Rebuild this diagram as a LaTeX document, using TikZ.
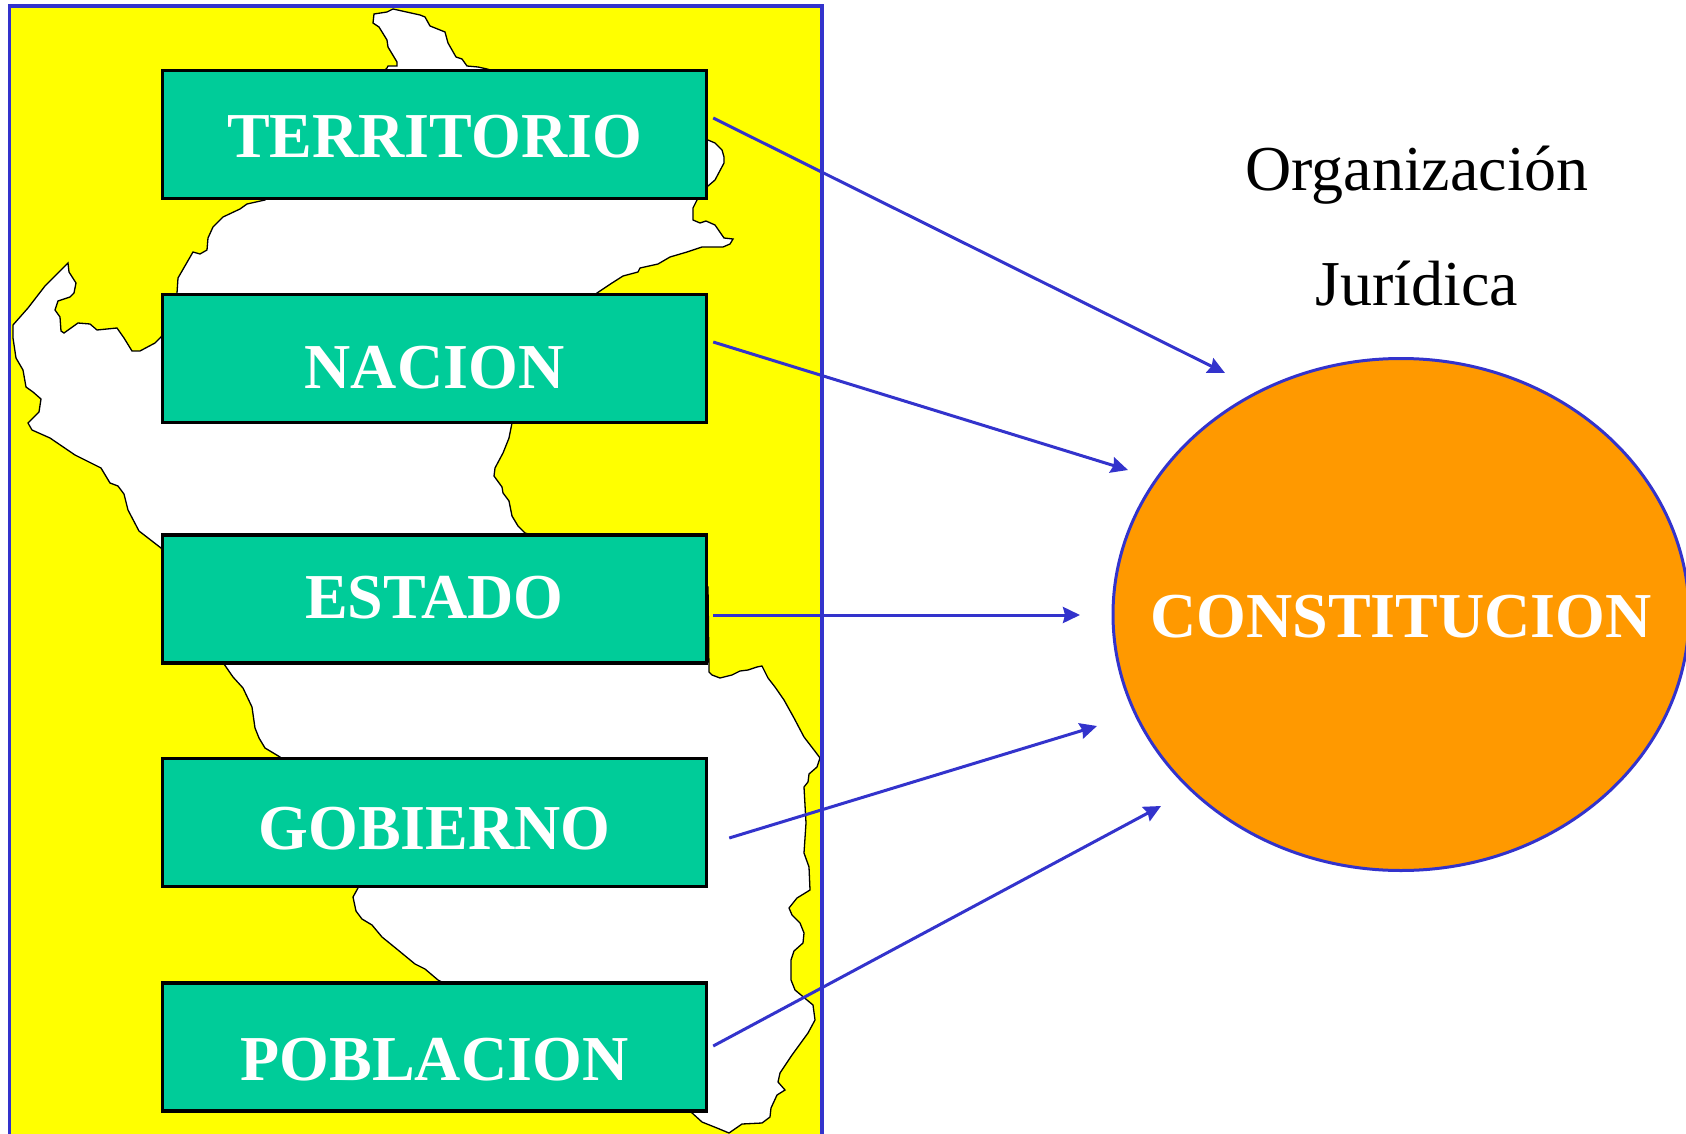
\documentclass[tikz,border=0pt]{standalone}
\usepackage{fontspec}
\setmainfont{Liberation Serif}
\usepackage{xcolor}
\definecolor{mapyellow}{RGB}{255, 255, 0}
\definecolor{boxgreen}{RGB}{0, 204, 153}
\definecolor{lineblue}{RGB}{51, 51, 204}
\definecolor{circleorange}{RGB}{255, 153, 0}
\usetikzlibrary{
    shapes.geometric,
    arrows.meta
}
\tikzset{
    conceptbox/.style={draw=black,line width=1.7pt,fill=boxgreen,text=white,inner sep=0pt,
        minimum width=272pt,minimum height=64pt,text height=21.2pt,text depth=0pt,
        font=\fontsize{32}{36}\selectfont\bfseries},
    linkarrow/.style={draw=lineblue,line width=1.5pt,-{Stealth[length=8.5pt,width=8pt,inset=1pt]}},
    titletext/.style={anchor=base,inner sep=0pt,font=\fontsize{32}{36}\selectfont}
}

\begin{document}
\begin{tikzpicture}[x=0.5pt,y=-0.5pt]
    \useasboundingbox (0,0) rectangle (1686,1134);

    % Yellow panel behind the map
    \fill[mapyellow] (9.5,6) rectangle (822,1150);

    % Map outline, clockwise from the north tip
    \draw[black,line width=0.65pt,fill=white]
        (373,23) -- (374,14) -- (387,12) -- (393,9) -- (420,15) -- (425,17) -- (430,26) -- (445,32)
        -- (448,43) -- (456,57) -- (462,59) -- (467,66) -- (478,67) -- (487,69) -- (600,100)
        -- (708,140) -- (715,143) -- (722,150) -- (724,157) -- (724,163) -- (715,180) -- (708,186)
        -- (697,200) -- (693,208) -- (693,220) -- (700,223) -- (706,221) -- (715,225) -- (724,238)
        -- (733,239) -- (730,244) -- (723,247) -- (702,247) -- (687,252) -- (670,257) -- (658,264)
        -- (640,268) -- (638,272) -- (623,276) -- (612,283) -- (597,293) -- (540,360) -- (512,423)
        -- (509,438) -- (503,453) -- (495,468) -- (494,476) -- (502,487) -- (503,493) -- (509,501)
        -- (512,516) -- (518,526) -- (525,533) -- (620,560) -- (708,587) -- (709,672) -- (712,675)
        -- (720,678) -- (732,675) -- (740,671) -- (748,670) -- (757,667) -- (762,666) -- (768,678)
        -- (775,687) -- (784,700) -- (794,718) -- (804,737) -- (814,750) -- (820,758) -- (817,767)
        -- (809,774) -- (808,782) -- (804,787) -- (806,823) -- (804,853) -- (809,867) -- (810,890)
        -- (797,898) -- (789,908) -- (792,915) -- (800,923) -- (804,933) -- (803,943) -- (794,951)
        -- (791,960) -- (791,980) -- (795,990) -- (813,1005) -- (815,1020) -- (808,1033) -- (792,1055)
        -- (780,1073) -- (778,1082) -- (785,1090) -- (777,1095) -- (771,1108) -- (770,1117)
        -- (762,1123) -- (742,1124) -- (729,1133) -- (717,1128) -- (702,1122) -- (691,1112)
        -- (560,1040) -- (438,980) -- (425,969) -- (415,964) -- (398,950) -- (382,937) -- (372,925)
        -- (362,919) -- (356,911) -- (353,897) -- (358,888) -- (320,820) -- (280,757) -- (265,748)
        -- (259,738) -- (255,728) -- (252,707) -- (243,688) -- (233,677) -- (224,664) -- (190,600)
        -- (161,548) -- (139,531) -- (128,510) -- (124,494) -- (118,486) -- (110,483) -- (101,468)
        -- (75,455) -- (50,438) -- (32,430) -- (28,423) -- (39,412) -- (41,399) -- (33,392) -- (26,387)
        -- (23,370) -- (16,358) -- (13,338) -- (13,325) -- (28,308) -- (45,286) -- (58,273) -- (68,263)
        -- (69,272) -- (76,283) -- (74,293) -- (70,297) -- (58,301) -- (55,310) -- (60,317) -- (61,331)
        -- (64,333) -- (78,323) -- (90,324) -- (97,330) -- (117,328) -- (124,338) -- (132,351)
        -- (140,351) -- (155,343) -- (161,337) -- (170,320) -- (177,293) -- (178,278) -- (193,252)
        -- (200,254) -- (207,250) -- (208,238) -- (213,227) -- (223,217) -- (240,209) -- (247,204)
        -- (265,200) -- (330,130) -- (387,68) -- (388,66) -- (397,66) -- (397,62) -- (388,47) -- (387,40)
        -- (379,27) -- cycle;

    % Panel frame, open past the lower edge
    \draw[lineblue,line width=1.6pt] (9.5,6) rectangle (822,1150);

    % Concept boxes: name/text/centre y/drop of the text
    \foreach \nm/\txt/\ypos/\drop in {territorio/TERRITORIO/134.5/1,nacion/NACION/358.5/4.5,
        estado/ESTADO/599/-0.75,gobierno/GOBIERNO/822.5/3,poblacion/POBLACION/1047/6.25} {
        \node[conceptbox] (\nm) at (434.5,\ypos) {\raisebox{-\drop pt}{\txt}};
    }

    \node[draw=lineblue,line width=1.5pt,fill=circleorange,ellipse,inner sep=0pt,text=white,
        minimum width=288pt,minimum height=256pt,text height=21.2pt,text depth=0pt,
        font=\fontsize{32}{36}\selectfont\bfseries]
        (constitucion) at (1401,614.5) {\raisebox{-1pt}{\makebox[0pt]{CONSTITUCION}}};

    \node[titletext] (organizacion) at (1417,191) {Organización};
    \node[titletext] (juridica) at (1417,306) {Jurídica};

    % Arrow tips stop short of the ellipse
    \coordinate (tipterritorio) at (1225,373);
    \coordinate (tipnacion) at (1128,470);
    \coordinate (tipestado) at (1080,615);
    \coordinate (tipgobierno) at (1097,726);
    \coordinate (tippoblacion) at (1161,806);

    \draw[linkarrow] ([shift={(5,-16.5)}]territorio.east) -- (tipterritorio);
    \draw[linkarrow] ([shift={(5,-16.5)}]nacion.east) -- (tipnacion);
    \draw[linkarrow] ([shift={(5,16)}]estado.east) -- (tipestado);
    \draw[linkarrow] ([shift={(21,15.5)}]gobierno.east) -- (tipgobierno);
    \draw[linkarrow] ([shift={(5,-1)}]poblacion.east) -- (tippoblacion);
\end{tikzpicture}
\end{document}
